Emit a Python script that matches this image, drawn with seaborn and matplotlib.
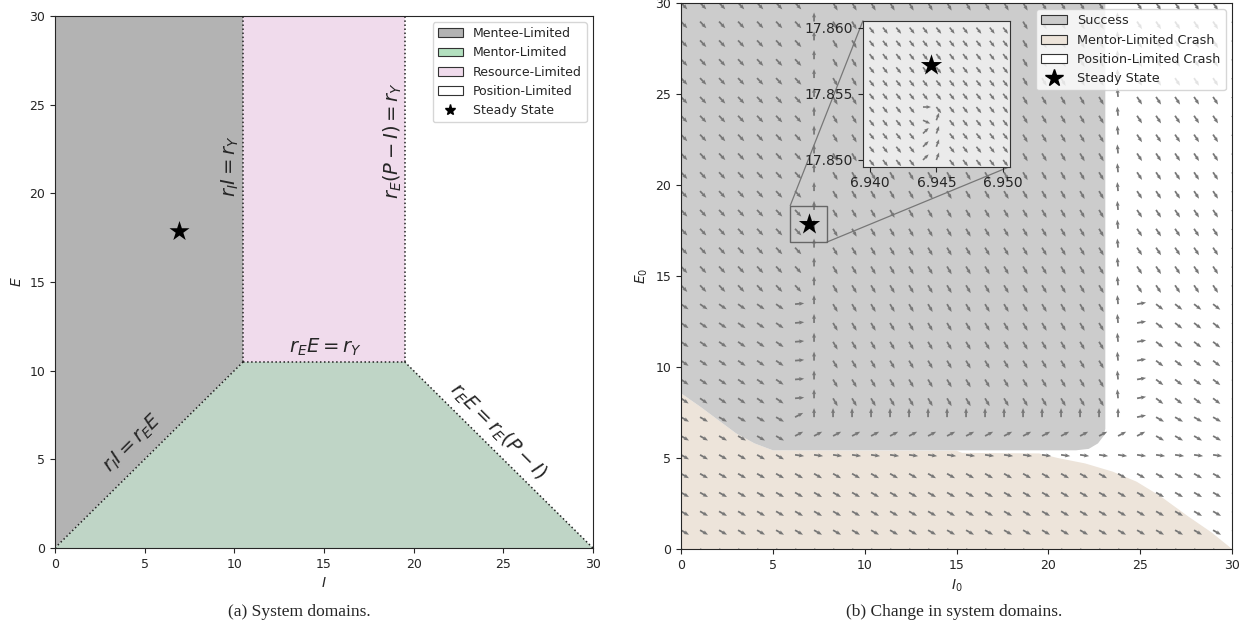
import numpy as np
import matplotlib
matplotlib.use("Agg")
import matplotlib.pyplot as plt
import seaborn as sns
from matplotlib.patches import Patch, Rectangle, ConnectionPatch
from matplotlib.lines import Line2D

sns.set_style("ticks")
plt.rcParams['font.family'] = ['DejaVu Sans']
plt.rcParams['mathtext.fontset'] = 'dejavusans'

# ------------------------------------------------------------------ data (a)
P = 30
threshold = 10.5                   # r_Y / r_E  (= r_Y / r_I)
steady_I = 6.9446
steady_E = 17.8572

domain_names = ["Mentee-Limited", "Mentor-Limited", "Resource-Limited", "Position-Limited"]
domain_fill = ["#b3b3b3", "#bfd5c6", "#f0dbec", "#ffffff"]
domain_patch = ["#b3b3b3", "#b3e0bf", "#f0dbec", "#ffffff"]

mentee_I = [0, threshold, threshold, 0]
mentee_E = [0, threshold, P, P]
mentor_I = [0, threshold, P - threshold, P]
mentor_E = [0, threshold, threshold, 0]
resource_I = [threshold, P - threshold, P - threshold, threshold]
resource_E = [threshold, threshold, P, P]

boundary_I = [[threshold, threshold], [P - threshold, P - threshold], [threshold, P - threshold],
              [0, threshold], [P - threshold, P]]
boundary_E = [[threshold, P], [threshold, P], [threshold, threshold],
              [0, threshold], [threshold, 0]]

labels_a = [r"$r_I I = r_Y$", r"$r_E(P-I) = r_Y$", r"$r_E E = r_Y$",
            r"$r_I I = r_E E$", r"$r_E E = r_E(P-I)$"]
labels_a_I = [9.8, 18.85, 15.1, 4.3, 24.7]
labels_a_E = [21.5, 23.0, 11.3, 5.9, 6.6]
labels_a_rot = [90, 90, 0, 45, -45]

# ------------------------------------------------------------------ data (b)
outcome_names = ["Success", "Mentor-Limited Crash", "Position-Limited Crash"]
outcome_colors = ["#cccccc", "#ede4da", "#ffffff"]

success_I = [0, 23.1, 23.1, 23.0, 22.7, 22.2, 21.5, 5.0, 4.0, 3.0, 2.0, 1.0, 0]
success_E = [30, 30, 6.6, 6.2, 5.8, 5.5, 5.42, 5.42, 5.8, 6.35, 7.1, 7.85, 8.55]
crash_I = [0, 0, 1, 2, 3, 4, 5, 15.0, 15.3, 19.5, 20.5, 22, 23.5, 24.8, 26.1, 27.6, 28.9, 30]
crash_E = [0, 8.55, 7.85, 7.1, 6.35, 5.8, 5.42, 5.40, 5.28, 5.25, 5.0, 4.7, 4.25, 3.7, 2.9, 1.8, 0.9, 0]

# direction field (arrow angles in degrees)
field_n = 30
band_E_edges = [7.7, 13.5]
zone_I_edges = [6.7, 24.3]
left_band_angles = [-30, -35, -47]
mid_band_angles = [-30, -60, -60]
right_band_angles = [-30, -38, -57]
# (column range, row range, angle) overrides
special_cells = [
    ((6, 30), (5, 6), -8),
    ((6, 25), (6, 7), 28),
    ((7, 24), (7, 8), 90),
    ((6, 7), (7, 8), 28),
    ((24, 25), (7, 8), 12),
    ((6, 7), (8, 14), 5),
    ((7, 8), (8, 30), 90),
    ((23, 24), (8, 30), 95),
    ((24, 25), (8, 14), 10),
]

inset_n = 11
inset_I_range = [6.94, 6.95]
inset_E_range = [17.85, 17.86]
inset_default_angle = -52
inset_special = [((4, 5), (4, 5), 0), ((4, 5), (3, 4), -25), ((4, 5), (0, 3), 45),
                 ((5, 6), (0, 4), 70)]

# ------------------------------------------------------------------ figure
fig = plt.figure(figsize=(12.43, 6.32), dpi=100)
ax1 = fig.add_axes([0.0442, 0.1329, 0.4328, 0.8418])
ax2 = fig.add_axes([0.5479, 0.1313, 0.4433, 0.8644])

# ----- panel (a)
ax1.fill(mentee_I, mentee_E, color=domain_fill[0], lw=0, zorder=1)
ax1.fill(mentor_I, mentor_E, color=domain_fill[1], lw=0, zorder=1)
ax1.fill(resource_I, resource_E, color=domain_fill[2], lw=0, zorder=1)
for bi, be in zip(boundary_I, boundary_E):
    ax1.plot(bi, be, ls=':', color='#222222', lw=1.1, zorder=2)
sns.scatterplot(x=[steady_I], y=[steady_E], marker='*', s=230, color='black',
                edgecolor='black', linewidth=0, ax=ax1, zorder=5, legend=False)
for t, xi, yi, r in zip(labels_a, labels_a_I, labels_a_E, labels_a_rot):
    ax1.text(xi, yi, t, rotation=r, ha='center', va='center', fontsize=14,
             rotation_mode='anchor', zorder=4)
ax1.set_xlim(0, 30)
ax1.set_ylim(0, 30)
ax1.set_xticks([0, 5, 10, 15, 20, 25, 30])
ax1.set_yticks([0, 5, 10, 15, 20, 25, 30])
ax1.tick_params(labelsize=9)
ax1.set_xlabel(r"$I$", fontsize=10)
ax1.set_ylabel(r"$E$", fontsize=10)
h1 = [Patch(facecolor=c, edgecolor='#333333', lw=0.8, label=n) for c, n in zip(domain_patch, domain_names)]
h1.append(Line2D([], [], marker='*', ls='none', color='black', markersize=8, label='Steady State'))
ax1.legend(handles=h1, loc='upper right', fontsize=9)

# ----- panel (b)
ax2.fill(crash_I, crash_E, color=outcome_colors[1], lw=0, zorder=1)
ax2.fill(success_I, success_E, color=outcome_colors[0], lw=0, zorder=1)

g = np.linspace(0, 30, field_n)
GI, GE = np.meshgrid(g, g)
ang = np.zeros_like(GI)
for j in range(field_n):
    for i in range(field_n):
        b = int(np.searchsorted(band_E_edges, GE[j, i]))
        z = int(np.searchsorted(zone_I_edges, GI[j, i]))
        ang[j, i] = [left_band_angles, mid_band_angles, right_band_angles][z][b]
for (i0, i1), (j0, j1), a in special_cells:
    ang[j0:j1, i0:i1] = a
L = 0.5
ax2.quiver(GI, GE, L * np.cos(np.radians(ang)), L * np.sin(np.radians(ang)),
           angles='xy', scale_units='xy', scale=1, color='#777777',
           width=0.0032, headwidth=2.3, headlength=2.9, headaxislength=2.6, zorder=2)
sns.scatterplot(x=[steady_I], y=[steady_E], marker='*', s=260, color='black',
                linewidth=0, ax=ax2, zorder=5, legend=False)
ax2.set_xlim(0, 30)
ax2.set_ylim(0, 30)
ax2.set_xticks([0, 5, 10, 15, 20, 25, 30])
ax2.set_yticks([0, 5, 10, 15, 20, 25, 30])
ax2.tick_params(labelsize=9)
ax2.set_xlabel(r"$I_0$", fontsize=10)
ax2.set_ylabel(r"$E_0$", fontsize=10)

# inset
axins = ax2.inset_axes([9.9, 21.0, 8.0, 8.0], transform=ax2.transData, zorder=6)
axins.set_facecolor('#ebebeb')
gi = np.linspace(inset_I_range[0], inset_I_range[1], inset_n)
ge = np.linspace(inset_E_range[0], inset_E_range[1], inset_n)
HI, HE = np.meshgrid(gi, ge)
iang = np.full_like(HI, inset_default_angle, dtype=float)
for (i0, i1), (j0, j1), a in inset_special:
    iang[j0:j1, i0:i1] = a
Li = 0.0006
axins.quiver(HI, HE, Li * np.cos(np.radians(iang)), Li * np.sin(np.radians(iang)),
             angles='xy', scale_units='xy', scale=1, color='#777777',
             width=0.011, headwidth=2.3, headlength=2.9, headaxislength=2.6)
sns.scatterplot(x=[steady_I], y=[steady_E], marker='*', s=260, color='black',
                linewidth=0, ax=axins, zorder=5, legend=False)
axins.set_xlim(6.945 - 0.0055, 6.945 + 0.0055)
axins.set_ylim(17.855 - 0.0055, 17.855 + 0.0055)
axins.set_xticks([6.940, 6.945, 6.950])
axins.set_yticks([17.850, 17.855, 17.860])
axins.set_xticklabels(["6.940", "6.945", "6.950"])
axins.set_yticklabels(["17.850", "17.855", "17.860"])
axins.tick_params(labelsize=10)
for s in axins.spines.values():
    s.set_color('#333333')

half = 1.0
ax2.add_patch(Rectangle((steady_I - half, steady_E - half), 2 * half, 2 * half,
                        fill=False, edgecolor='#666666', lw=1.0, zorder=4))
c1 = ConnectionPatch(xyA=(steady_I - half, steady_E + half), coordsA=ax2.transData,
                     xyB=(0, 1), coordsB=axins.transAxes, color='#777777', lw=0.9)
c2 = ConnectionPatch(xyA=(steady_I + half, steady_E - half), coordsA=ax2.transData,
                     xyB=(1, 0), coordsB=axins.transAxes, color='#777777', lw=0.9)
ax2.add_artist(c1)
ax2.add_artist(c2)

h2 = [Patch(facecolor=c, edgecolor='#333333', lw=0.8, label=n) for c, n in zip(outcome_colors, outcome_names)]
h2.append(Line2D([], [], marker='*', ls='none', color='black', markersize=13, label='Steady State'))
leg2 = ax2.legend(handles=h2, loc='upper right', fontsize=9.2)
leg2.set_zorder(10)

# captions
fig.text(0.241, 0.032, "(a) System domains.", ha='center', va='center',
         family='Liberation Serif', fontsize=12.5)
fig.text(0.768, 0.032, "(b) Change in system domains.", ha='center', va='center',
         family='Liberation Serif', fontsize=12.5)

fig.savefig("out.png", dpi=100)
